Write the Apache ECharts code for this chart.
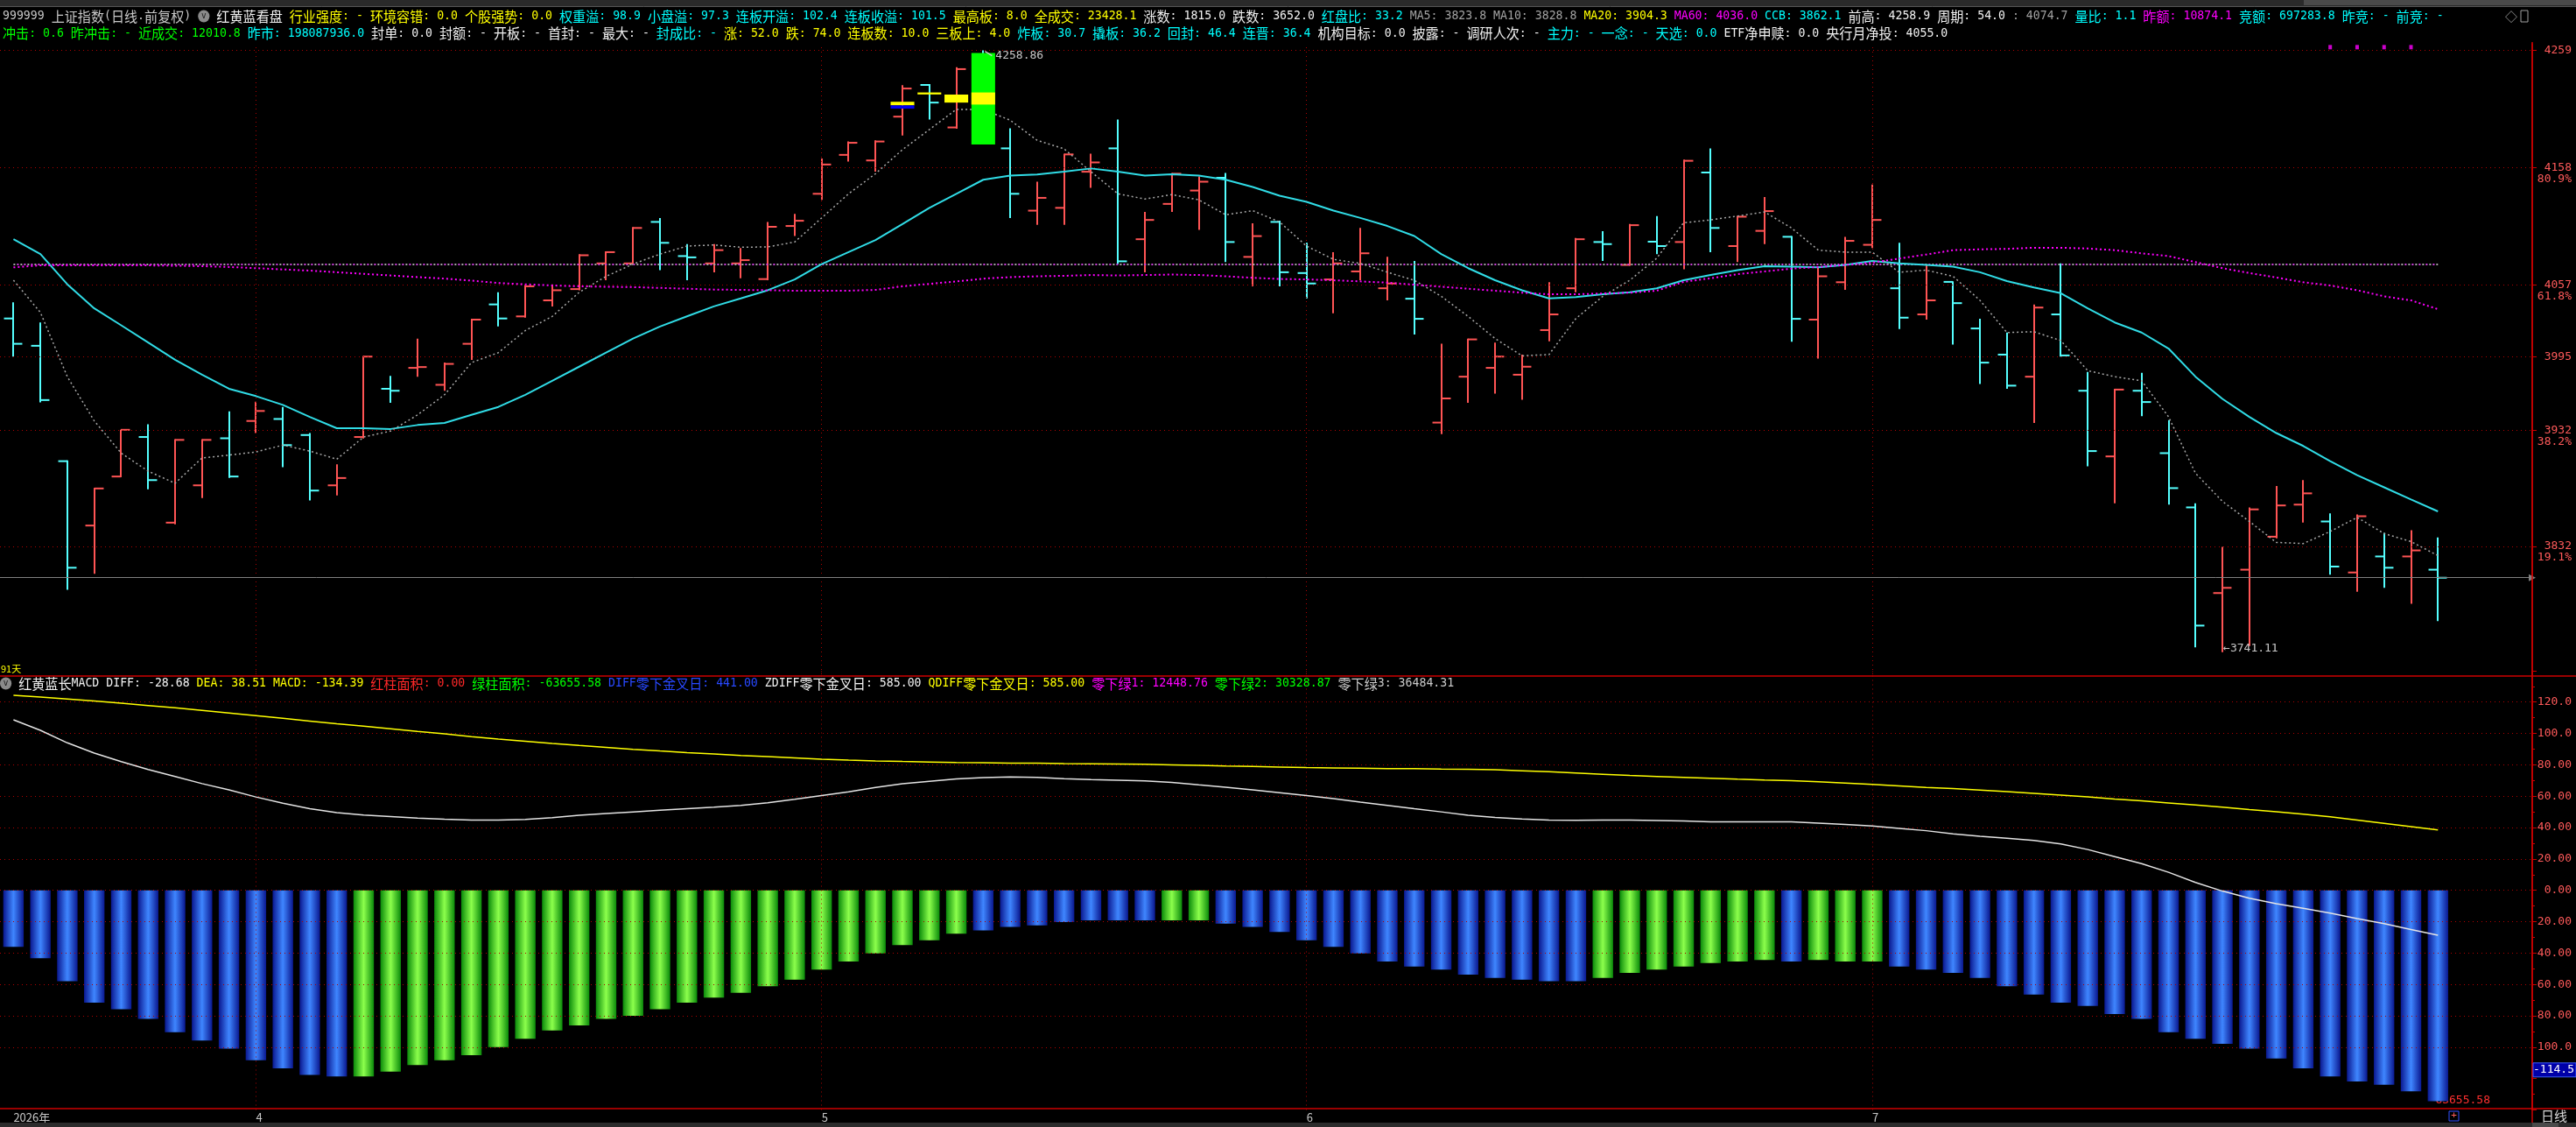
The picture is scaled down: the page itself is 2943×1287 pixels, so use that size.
<!DOCTYPE html>
<html>
<head>
<meta charset="utf-8">
<title>上证指数 日线</title>
<script src="https://cdn.jsdelivr.net/npm/echarts@6.0.0/dist/echarts.min.js"></script>
<style>
html,body{margin:0;padding:0;background:#000;overflow:hidden;}
#chart{width:2943px;height:1287px;}
</style>
</head>
<body>
<div id="chart"></div>
<script>
// ---------------- data ----------------
const opens = [4028.2,4004.7,3905.4,3850.0,3892.2,3926.2,3852.5,3884.6,3925.1,3940.0,
 3941.7,3927.9,3884.6,3926.2,3967.7,3985.7,3971.1,4006.4,4040.3,4030.0,
 4043.8,4053.5,4075.6,4075.6,4111.3,4081.9,4075.6,4075.6,4062.1,4107.8,
 4135.5,4169.0,4164.2,4201.9,4229.2,4192.6,4232.0,4174.6,4121.0,4123.4,
 4154.5,4174.6,4096.4,4126.8,4138.3,4149.3,4081.2,4111.3,4067.3,4061.8,
 4068.7,4054.2,4045.2,3938.6,3978.1,3985.7,3979.8,4018.2,4054.2,4094.0,
 4074.3,4094.3,4094.0,4153.8,4090.5,4103.6,4098.5,4027.2,4059.4,4091.6,
 4054.2,4031.7,4059.7,4019.6,3997.1,3978.1,4031.7,3966.0,3909.5,3966.0,
 3912.3,3865.6,3791.9,3812.0,3840.4,3868.0,3853.5,3809.6,3823.4,3823.4,
 3812.0];
const highs = [4042.1,4024.8,3906.1,3882.5,3932.4,3937.2,3924.4,3924.4,3948.3,3956.6,
 3952.1,3929.6,3902.6,3996.0,3978.7,4010.9,3990.2,4028.0,4050.7,4056.9,
 4057.6,4083.5,4086.0,4107.0,4114.7,4092.2,4092.2,4088.8,4111.3,4118.2,
 4165.9,4180.5,4181.5,4228.9,4229.9,4244.5,4258.86,4191.9,4145.9,4170.1,
 4170.1,4199.5,4119.9,4153.5,4150.4,4153.5,4110.2,4112.3,4093.3,4085.3,
 4106.1,4081.2,4077.7,4006.4,4010.9,4007.5,3997.1,4059.4,4097.5,4103.3,
 4109.5,4116.4,4165.0,4174.6,4116.5,4132.7,4099.1,4073.2,4098.5,4143.4,
 4093.3,4074.3,4060.1,4027.9,4016.1,4040.3,4075.6,3982.2,3967.7,3981.5,
 3940.7,3869.1,3831.7,3865.5,3884.0,3889.1,3860.4,3859.5,3843.8,3845.9,
 3839.7];
const lows = [3995.4,3956.0,3794.7,3808.5,3891.6,3881.2,3851.0,3873.6,3891.0,3929.6,
 3900.2,3871.5,3876.0,3925.0,3955.6,3978.1,3966.0,3992.6,4021.3,4028.9,
 4038.6,4052.5,4061.1,4075.0,4069.8,4061.1,4068.0,4062.8,4061.1,4099.1,
 4130.3,4163.2,4154.5,4185.7,4199.5,4191.5,4178.0,4114.7,4108.8,4108.8,
 4140.7,4075.0,4068.0,4119.9,4104.4,4076.7,4055.9,4055.9,4045.5,4032.7,
 4061.1,4043.8,4014.4,3928.6,3955.6,3963.5,3958.3,4008.5,4050.7,4077.7,
 4073.6,4083.6,4070.5,4085.3,4076.7,4092.2,4008.2,3993.6,4052.8,4088.8,
 4019.2,4027.2,4005.7,3971.8,3967.7,3938.3,3995.4,3900.9,3869.1,3944.1,
 3868.0,3745.2,3741.11,3746.3,3839.0,3852.5,3807.8,3793.0,3796.4,3782.6,
 3767.7];
const closes = [4006.4,3958.0,3813.7,3881.9,3932.4,3889.1,3923.7,3923.7,3892.2,3948.6,
 3919.2,3880.1,3890.9,3995.4,3966.0,3986.4,3989.1,4027.2,4028.2,4055.9,
 4052.5,4082.6,4085.3,4106.1,4093.3,4080.8,4087.0,4078.4,4107.1,4112.3,
 4160.7,4179.4,4180.5,4226.1,4214.0,4242.8,4182.0,4135.5,4132.0,4169.4,
 4162.5,4077.4,4113.0,4152.8,4145.9,4094.0,4099.1,4068.0,4058.3,4075.6,
 4084.3,4058.3,4027.9,3959.4,4010.2,3995.4,3986.7,4031.7,4096.4,4092.2,
 4108.5,4090.5,4163.9,4106.1,4115.8,4120.6,4027.9,4064.5,4095.0,4113.0,
 4028.9,4043.8,4041.4,3990.2,3970.4,4037.6,3996.4,3914.1,3967.0,3956.3,
 3882.2,3763.9,3796.4,3863.9,3867.3,3877.7,3814.7,3858.0,3813.7,3828.6,
 3805.1];
const ccb = [4096.4,4083.6,4057.6,4036.9,4022.3,4007.5,3992.6,3979.8,3967.7,3961.4,
 3953.8,3943.5,3933.8,3933.8,3933.1,3936.5,3938.3,3945.2,3952.1,3962.5,
 3974.6,3986.7,3998.8,4010.9,4021.3,4030.0,4038.6,4045.5,4052.5,4061.8,
 4075.0,4085.3,4095.7,4109.5,4123.4,4135.5,4147.6,4151.1,4152.1,4154.5,
 4157.3,4154.5,4151.1,4152.4,4151.1,4147.6,4141.4,4133.8,4128.6,4121.0,
 4114.7,4107.8,4099.2,4083.6,4071.5,4061.1,4052.5,4045.5,4046.6,4049.0,
 4050.7,4054.2,4061.1,4065.6,4069.8,4073.2,4072.8,4072.2,4074.3,4077.7,
 4075.6,4074.3,4072.8,4068.0,4060.4,4054.9,4050.0,4036.9,4024.8,4016.1,
 4002.3,3978.1,3959.0,3943.5,3929.6,3918.5,3905.4,3893.3,3882.9,3872.5,
 3862.2];
const ma5 = [4061.1,4033.4,3978.1,3940.0,3912.3,3896.8,3886.4,3908.2,3910.6,3913.3,
 3919.2,3914.1,3907.1,3926.2,3931.3,3945.2,3962.5,3990.2,3998.8,4017.8,
 4030.0,4050.7,4064.5,4075.0,4083.6,4090.5,4091.5,4089.5,4089.8,4094.0,
 4114.7,4135.5,4152.8,4173.5,4190.8,4208.1,4208.1,4198.8,4181.5,4174.2,
 4154.5,4135.5,4131.0,4134.8,4130.3,4117.5,4121.0,4111.3,4090.5,4079.1,
 4075.6,4068.0,4061.1,4047.3,4030.0,4010.9,3996.1,3997.1,4028.2,4047.3,
 4061.1,4080.1,4110.6,4113.0,4116.4,4119.9,4106.1,4087.0,4085.3,4085.3,
 4068.0,4069.8,4064.5,4043.8,4016.1,4016.8,4009.2,3983.3,3978.1,3974.6,
 3943.5,3895.0,3870.8,3853.5,3835.5,3834.5,3844.9,3857.0,3843.1,3836.2,
 3824.1];
const ma60 = [4072.2,4073.9,4073.9,4073.9,4073.9,4073.9,4073.6,4073.2,4072.5,4071.5,
 4070.4,4069.4,4068.0,4066.6,4065.2,4063.8,4062.5,4060.8,4058.7,4057.6,
 4056.6,4055.9,4055.5,4055.2,4054.5,4053.8,4053.1,4052.8,4052.5,4052.1,
 4052.1,4052.1,4052.8,4055.9,4058.0,4060.1,4062.5,4063.8,4064.5,4064.9,
 4065.6,4065.2,4065.6,4066.0,4065.6,4064.5,4063.2,4062.2,4061.8,4061.1,
 4060.1,4059.0,4057.3,4055.5,4053.8,4052.1,4050.4,4049.0,4049.0,4049.7,
 4050.4,4052.1,4059.7,4062.8,4066.3,4068.7,4071.1,4072.5,4074.3,4076.3,
 4079.8,4083.2,4087.0,4087.7,4088.1,4089.1,4089.1,4088.4,4087.0,4084.3,
 4081.9,4076.7,4071.5,4067.3,4063.5,4059.4,4056.6,4052.5,4047.3,4043.8,
 4036.2];
const diff = [108.7,102.0,94.0,87.5,82.0,77.0,72.5,68.0,64.0,59.5,
 55.5,52.0,49.5,48.0,47.0,46.0,45.3,44.8,44.7,45.2,
 46.3,47.8,49.0,50.0,51.0,52.0,53.0,54.1,55.8,58.0,
 60.4,62.8,65.5,67.9,69.5,71.0,71.8,72.2,72.0,71.2,
 70.6,70.2,69.8,68.8,67.2,65.7,64.0,62.2,60.4,58.4,
 56.2,54.1,52.0,50.0,47.8,46.5,45.5,44.8,44.6,44.7,
 44.7,44.5,44.2,43.7,43.6,43.6,43.6,42.8,42.0,41.0,
 39.5,38.0,36.0,34.5,33.2,31.8,29.5,26.0,21.5,17.0,
 11.5,5.0,-0.5,-5.0,-8.5,-11.5,-14.5,-18.0,-21.3,-25.0,
 -28.68];
const dea = [124.3,123.2,122.0,120.7,119.3,117.8,116.3,114.7,113.0,111.3,
 109.6,107.9,106.2,104.6,103.0,101.3,99.7,98.0,96.4,95.0,
 93.6,92.3,91.1,89.9,88.8,87.8,86.9,86.0,85.2,84.4,
 83.6,83.0,82.5,82.1,81.8,81.5,81.3,81.1,81.0,80.8,
 80.7,80.5,80.3,80.0,79.7,79.3,79.0,78.6,78.2,78.0,
 77.8,77.6,77.5,77.3,77.2,76.8,76.2,75.6,74.8,74.0,
 73.2,72.6,72.0,71.4,70.8,70.3,69.9,69.2,68.4,67.5,
 66.6,65.6,64.8,63.9,62.9,61.8,60.7,59.5,58.2,57.0,
 55.7,54.4,53.0,51.5,50.1,48.6,46.8,44.8,42.7,40.6,
 38.51];
const macd = [-36.0,-43.3,-58.0,-71.6,-75.8,-82.0,-90.5,-95.7,-100.9,-108.3,
 -113.5,-117.7,-118.7,-118.7,-115.6,-111.4,-108.3,-105.1,-99.9,-94.7,
 -89.4,-86.2,-82.0,-80.0,-75.8,-71.6,-68.4,-65.3,-61.1,-56.9,
 -50.6,-45.4,-40.2,-34.9,-31.8,-27.6,-25.5,-23.4,-22.3,-20.3,
 -19.2,-19.2,-19.2,-19.2,-19.2,-21.3,-23.4,-26.6,-31.8,-36.0,
 -40.2,-45.4,-48.6,-50.6,-53.8,-55.9,-56.9,-58.0,-58.0,-55.9,
 -52.7,-50.6,-48.6,-46.4,-45.4,-44.4,-45.4,-44.4,-45.4,-45.4,
 -48.6,-50.6,-52.7,-55.9,-61.1,-66.4,-71.6,-73.7,-78.9,-82.0,
 -90.5,-94.7,-97.8,-100.9,-107.2,-113.5,-118.7,-121.9,-124.0,-128.1,
 -134.39];
// b = blue bar, g = green bar
const macdColorKey = 'bbbbbbbbbbbbbgggggggggggggggggggggggbbbbbbbggbbbbbbbbbbbbbbgggggggbgggbbbbbbbbbbbbbbbbbbbbb';

const priceLabels = [4259, 4158, 4057, 3995, 3932, 3832];
const pctLabels = ['', '80.9%', '61.8%', '', '38.2%', '19.1%'];
const macdGridValues = [120, 100, 80, 60, 40, 20, 0, -20, -40, -60, -80, -100];
const monthIdx = [9, 30, 48, 69];
const xLabelIdx = [0, 9, 30, 48, 69];
const xLabelText = ['2026年', '4', '5', '6', '7'];
const levelLine = 4074.7;
const extremeIdx = [36, 82];
const extremeVal = [4258.86, 3741.11];
const extremeKind = ['high', 'low'];
const signalIdx = [86, 87, 88, 89];
const signalVal = 4261.7;
const blockIdx = [33, 33, 34, 35, 36, 36];
const blockTop = [4214.7, 4211.6, 4222.7, 4220.9, 4256.6, 4222.7];
const blockBottom = [4211.6, 4208.8, 4221.0, 4214.0, 4178.0, 4212.3];
const blockKind = ['y', 'b', 'y', 'y', 'g', 'y'];
const cursorMacd = -114.5;
const greenAreaText = '-63655.58';

const header1 = [
  ['lg', '999999 上证指数(日线.前复权) '],
  ['icon', 'v'],
  ['w', ' 红黄蓝看盘 '],
  ['y', '行业强度: - 环境容错: 0.0 个股强势: 0.0 '],
  ['c', '权重溢: 98.9 小盘溢: 97.3 连板开溢: 102.4 连板收溢: 101.5 '],
  ['y', '最高板: 8.0 全成交: 23428.1 '],
  ['w', '涨数: 1815.0 跌数: 3652.0 '],
  ['c', '红盘比: 33.2 '],
  ['gr', 'MA5: 3823.8 MA10: 3828.8 '],
  ['y', 'MA20: 3904.3 '],
  ['m', 'MA60: 4036.0 '],
  ['c', 'CCB: 3862.1 '],
  ['w', '前高: 4258.9 周期: 54.0 '],
  ['gr', ': 4074.7 '],
  ['c', '量比: 1.1 '],
  ['m', '昨额: 10874.1 '],
  ['c', '竞额: 697283.8 昨竞: - 前竞: -']
];
const header2 = [
  ['gn', '冲击: 0.6 昨冲击: - 近成交: 12010.8 '],
  ['c', '昨市: 198087936.0 '],
  ['w', '封单: 0.0 封额: - 开板: - 首封: - 最大: - '],
  ['c', '封成比: - '],
  ['y', '涨: 52.0 跌: 74.0 连板数: 10.0 三板上: 4.0 '],
  ['c', '炸板: 30.7 撬板: 36.2 回封: 46.4 连晋: 36.4 '],
  ['w', '机构目标: 0.0 披露: - 调研人次: - '],
  ['c', '主力: - 一念: - 天选: 0.0 '],
  ['w', 'ETF净申赎: 0.0 央行月净投: 4055.0']
];
const macdHeader = [
  ['icon', 'v'],
  ['w', ' 红黄蓝长MACD DIFF: -28.68 '],
  ['y', 'DEA: 38.51 MACD: -134.39 '],
  ['r', '红柱面积: 0.00 '],
  ['gn', '绿柱面积: -63655.58 '],
  ['bl', 'DIFF零下金叉日: 441.00 '],
  ['w', 'ZDIFF零下金叉日: 585.00 '],
  ['y', 'QDIFF零下金叉日: 585.00 '],
  ['m', '零下绿1: 12448.76 '],
  ['gn', '零下绿2: 30328.87 '],
  ['lg', '零下绿3: 36484.31']
];

// ---------------- styling / layout ----------------
const FONT_CJK = '"Noto Sans CJK SC", "Noto Sans", sans-serif';
const FONT_MONO = '"DejaVu Sans Mono", "Liberation Mono", monospace';
const COLOR = { w: '#f0f0f0', lg: '#c8c8c8', y: '#ffff00', c: '#00ffff', m: '#ff00ff', gr: '#a0a0a0',
  gn: '#00ff00', r: '#ff2828', bl: '#2848ff' };
const UP = '#ff5454', DOWN = '#54ffff', GRIDRED = '#b00000', AXISRED = '#cc0000', LABELRED = '#ff5a5a';
const BLOCK_COLOR = { y: '#ffff00', b: '#0000f0', g: '#00ff00' };
const SLOT_COUNT = 94;
const GRID_LEFT = -3, GRID_RIGHT = 50;
const MAIN_TOP = 50, MAIN_H = 720, MAIN_MIN = 3722.0, MAIN_MAX = 4264.6;
const MACD_TOP = 765.9, MACD_H = 501.6, MACD_MIN = -140, MACD_MAX = 140;
const HEADER_SCALE = 0.943;

const categories = Array.from({ length: SLOT_COUNT }, (_, i) => 'd' + i);
const xLabels = categories.map((_, i) => { const k = xLabelIdx.indexOf(i); return k >= 0 ? xLabelText[k] : ''; });
const ohlcData = opens.map((o, i) => [i, o, closes[i], lows[i], highs[i]]);
const lastIdx = closes.length - 1;

const chart = echarts.init(document.getElementById('chart'), null, { renderer: 'canvas' });

function renderOHLC(params, api) {
  const i = api.value(0);
  const o = api.coord([i, api.value(1)]);
  const c = api.coord([i, api.value(2)]);
  const l = api.coord([i, api.value(3)]);
  const h = api.coord([i, api.value(4)]);
  const band = api.size([1, 0])[0];
  const t = band * 0.34;
  const col = api.value(2) >= api.value(1) ? UP : DOWN;
  const x = Math.round(h[0]);
  const st = { stroke: col, lineWidth: 2 };
  return { type: 'group', children: [
    { type: 'line', shape: { x1: x, y1: h[1], x2: x, y2: l[1] }, style: st },
    { type: 'line', shape: { x1: x - t, y1: o[1], x2: x, y2: o[1] }, style: st },
    { type: 'line', shape: { x1: x, y1: c[1], x2: x + t, y2: c[1] }, style: st }
  ]};
}
function renderBlock(params, api) {
  const i = api.value(0);
  const p1 = api.coord([i, api.value(1)]);
  const p2 = api.coord([i, api.value(2)]);
  const w = api.size([1, 0])[0] * 0.88;
  return { type: 'rect', shape: { x: p1[0] - w / 2, y: p1[1], width: w, height: Math.max(2, p2[1] - p1[1]) },
    style: { fill: api.visual('color') } };
}
function renderExtreme(params, api) {
  const i = api.value(0), v = api.value(1), kind = extremeKind[params.dataIndex];
  const p = api.coord([i, v]);
  const txt = v.toFixed(2);
  if (kind === 'high') {
    return { type: 'group', children: [
      { type: 'line', shape: { x1: p[0] + 2, y1: p[1] + 1, x2: p[0] + 10, y2: p[1] + 6 }, style: { stroke: '#c8c8c8', lineWidth: 1.5 } },
      { type: 'text', x: p[0] + 14, y: p[1] + 6, style: { text: txt, fill: '#c8c8c8', font: '13px ' + FONT_MONO, verticalAlign: 'middle', textAlign: 'left' } }
    ]};
  }
  return { type: 'text', x: p[0] + 1, y: p[1] - 4, style: { text: '←' + txt, fill: '#c8c8c8', font: '13px ' + FONT_MONO, verticalAlign: 'middle', textAlign: 'left' } };
}

const blueGrad = new echarts.graphic.LinearGradient(0, 0, 1, 0, [
  { offset: 0, color: '#0a1890' }, { offset: 0.5, color: '#3f86ff' }, { offset: 1, color: '#0a1890' }]);
const greenGrad = new echarts.graphic.LinearGradient(0, 0, 1, 0, [
  { offset: 0, color: '#0a8a0a' }, { offset: 0.5, color: '#8cff4c' }, { offset: 1, color: '#0a8a0a' }]);

const gridLineStyle = { color: GRIDRED, type: [1, 4], width: 1 };

const option = {
  backgroundColor: '#000000',
  animation: false,
  grid: [
    { left: GRID_LEFT, right: GRID_RIGHT, top: MAIN_TOP, height: MAIN_H },
    { left: GRID_LEFT, right: GRID_RIGHT, top: MACD_TOP, height: MACD_H }
  ],
  xAxis: [
    { type: 'category', gridIndex: 0, data: categories, boundaryGap: true, show: false },
    { type: 'category', gridIndex: 1, data: categories, boundaryGap: true,
      axisLine: { show: false }, axisTick: { show: false }, splitLine: { show: false },
      axisLabel: { interval: 0, formatter: (v, i) => xLabels[i], align: 'left', color: '#c8c8c8',
        fontSize: 13, fontFamily: FONT_CJK, margin: 2 } }
  ],
  yAxis: [
    { type: 'value', gridIndex: 0, position: 'right', min: MAIN_MIN, max: MAIN_MAX,
      splitLine: { show: false },
      axisLine: { show: true, lineStyle: { color: AXISRED, width: 1.5 } },
      axisTick: { show: true, customValues: priceLabels, length: 5, lineStyle: { color: AXISRED } },
      axisLabel: { customValues: priceLabels, align: 'right', margin: 45,
        formatter: function (v) {
          const k = priceLabels.indexOf(Math.round(v));
          const pct = k >= 0 ? pctLabels[k] : '';
          return pct ? '{e| }\n{v|' + Math.round(v) + '}\n{v|' + pct + '}' : '{v|' + Math.round(v) + '}';
        },
        rich: {
          v: { color: LABELRED, fontSize: 13, lineHeight: 13, fontFamily: FONT_MONO, align: 'right' },
          e: { fontSize: 13, lineHeight: 13 }
        } } },
    { type: 'value', gridIndex: 1, position: 'right', min: MACD_MIN, max: MACD_MAX, interval: 20,
      splitLine: { show: false },
      axisLine: { show: true, lineStyle: { color: AXISRED, width: 1.5 } },
      axisTick: { show: true, length: 5, lineStyle: { color: AXISRED } },
      minorTick: { show: true, splitNumber: 2, length: 3, lineStyle: { color: AXISRED } },
      axisLabel: { align: 'right', margin: 45, color: LABELRED, fontSize: 13, fontFamily: FONT_MONO,
        formatter: function (v) {
          const a = Math.abs(v);
          if (v >= 140 || v <= -120) return '';
          return a >= 100 ? a.toFixed(1) : a.toFixed(2);
        } } }
  ],
  series: [
    { name: 'K', type: 'custom', xAxisIndex: 0, yAxisIndex: 0, renderItem: renderOHLC,
      data: ohlcData, encode: { x: 0, y: [1, 2, 3, 4] }, z: 3, clip: false, silent: true },
    { name: 'CCB', type: 'line', xAxisIndex: 0, yAxisIndex: 0, data: ccb, symbol: 'none',
      lineStyle: { color: '#30dce6', width: 2 }, z: 5, silent: true,
      markLine: { silent: true, symbol: ['none', 'none'], label: { show: false }, lineStyle: gridLineStyle,
        data: priceLabels.map(v => ({ yAxis: v })).concat(monthIdx.map(i => ({ xAxis: i }))) } },
    { name: 'MA5', type: 'line', xAxisIndex: 0, yAxisIndex: 0, data: ma5, symbol: 'none',
      lineStyle: { color: '#a8a8a8', width: 1.5, type: [2, 3] }, z: 5, silent: true,
      markLine: { silent: true, symbol: ['none', 'none'], label: { show: false },
        data: [
          [{ coord: [0, levelLine], lineStyle: { color: '#a8a8a8', width: 2, type: [2, 6], dashOffset: 0 } },
           { coord: [lastIdx, levelLine] }],
          [{ coord: [0, levelLine], lineStyle: { color: '#d040e0', width: 2, type: [2, 6], dashOffset: 4 } },
           { coord: [lastIdx, levelLine] }]
        ] } },
    { name: 'MA60', type: 'line', xAxisIndex: 0, yAxisIndex: 0, data: ma60, symbol: 'none',
      lineStyle: { color: '#ff00ff', width: 2, type: [2, 3] }, z: 5, silent: true,
      markLine: { silent: true, symbol: ['none', 'triangle'], symbolSize: 8, label: { show: false },
        lineStyle: { color: '#808080', width: 1, type: 'solid' },
        data: [{ yAxis: closes[lastIdx] }] } },
    { name: 'blocks', type: 'custom', xAxisIndex: 0, yAxisIndex: 0, renderItem: renderBlock, z: 6, silent: true,
      data: blockIdx.map((i, k) => ({ value: [i, blockTop[k], blockBottom[k]], itemStyle: { color: BLOCK_COLOR[blockKind[k]] } })) },
    { name: 'extremes', type: 'custom', xAxisIndex: 0, yAxisIndex: 0, renderItem: renderExtreme, z: 7, silent: true,
      clip: false, data: extremeIdx.map((i, k) => [i, extremeVal[k]]) },
    { name: 'signals', type: 'scatter', xAxisIndex: 0, yAxisIndex: 0, symbol: 'rect', symbolSize: [4, 5],
      itemStyle: { color: '#ff00ff' }, z: 7, silent: true, data: signalIdx.map(i => [i, signalVal]) },
    { name: 'MACD', type: 'bar', xAxisIndex: 1, yAxisIndex: 1, barWidth: '76%', z: 3, silent: true,
      data: macd.map((v, i) => ({ value: v, itemStyle: { color: macdColorKey[i] === 'g' ? greenGrad : blueGrad } })) },
    { name: 'DIFF', type: 'line', xAxisIndex: 1, yAxisIndex: 1, data: diff, symbol: 'none',
      lineStyle: { color: '#e4e4e4', width: 1.5 }, z: 5, silent: true,
      markLine: { silent: true, symbol: ['none', 'none'], label: { show: false }, lineStyle: gridLineStyle,
        data: macdGridValues.map(v => ({ yAxis: v })).concat(monthIdx.map(i => ({ xAxis: i }))) } },
    { name: 'DEA', type: 'line', xAxisIndex: 1, yAxisIndex: 1, data: dea, symbol: 'none',
      lineStyle: { color: '#ffff00', width: 1.5 }, z: 5, silent: true }
  ]
};
chart.setOption(option);

// ---------------- header texts and frame ----------------
// ASCII runs use a monospace face, CJK runs the CJK face (like the terminal's half/full-width font)
function buildRich(segs) {
  let text = '';
  const rich = {};
  let n = 0;
  segs.forEach(s => {
    if (s[0] === 'icon') {
      const key = 't' + (n++);
      rich[key] = { backgroundColor: '#8a8a8a', borderRadius: 7, width: 14, height: 14, align: 'center',
        verticalAlign: 'middle', fill: '#1a1a1a', color: '#1a1a1a', fontSize: 10, fontFamily: FONT_MONO, lineHeight: 20 };
      text += '{' + key + '|' + s[1] + '}';
      return;
    }
    const runs = s[1].match(/[\x00-\xff]+|[^\x00-\xff]+/g) || [];
    runs.forEach(run => {
      const key = 't' + (n++);
      const ascii = /^[\x00-\xff]/.test(run);
      rich[key] = { fill: COLOR[s[0]], color: COLOR[s[0]], fontSize: ascii ? 14 : 16,
        fontFamily: ascii ? FONT_MONO : FONT_CJK, lineHeight: 20, verticalAlign: 'middle' };
      text += '{' + key + '|' + run + '}';
    });
  });
  return { text, rich };
}
function richText(segs, x, y) {
  const r = buildRich(segs);
  return { type: 'text', x: x, y: y, scaleX: HEADER_SCALE, z: 100, silent: true,
    style: { text: r.text, rich: r.rich, font: '16px ' + FONT_CJK, verticalAlign: 'middle', textAlign: 'left' } };
}

const cursorY = chart.convertToPixel({ yAxisIndex: 1 }, cursorMacd);
const graphics = [
  // top menu strip
  { type: 'rect', shape: { x: 0, y: 0, width: 2943, height: 7 }, style: { fill: '#2a2a2a' }, z: 90, silent: true },
  { type: 'rect', shape: { x: 2632, y: 0, width: 311, height: 6 }, style: { fill: '#4a4a4a' }, z: 91, silent: true },
  { type: 'line', shape: { x1: 0, y1: 7.5, x2: 2943, y2: 7.5 }, style: { stroke: '#555555', lineWidth: 1 }, z: 91, silent: true },
  richText(header1, 3, 18.5),
  richText(header2, 3, 38),
  { type: 'text', x: 2862, y: 18.5, z: 100, silent: true, style: { text: '◇', fill: '#a0a0a0', font: '14px ' + FONT_CJK, verticalAlign: 'middle' } },
  { type: 'rect', shape: { x: 2880, y: 12, width: 8, height: 13 }, style: { fill: 'none', stroke: '#a0a0a0', lineWidth: 1 }, z: 100, silent: true },
  // frame lines
  { type: 'line', shape: { x1: 2893, y1: 48, x2: 2893, y2: 1282 }, style: { stroke: AXISRED, lineWidth: 1.5 }, z: 95, silent: true },
  { type: 'line', shape: { x1: 0, y1: 772, x2: 2943, y2: 772 }, style: { stroke: AXISRED, lineWidth: 1.5 }, z: 95, silent: true },
  { type: 'line', shape: { x1: 0, y1: 1266, x2: 2943, y2: 1266 }, style: { stroke: AXISRED, lineWidth: 1.5 }, z: 95, silent: true },
  { type: 'text', x: 1, y: 764, z: 100, silent: true, style: { text: '91天', fill: '#ffff00', font: '11px ' + FONT_CJK, verticalAlign: 'middle' } },
  richText(macdHeader, 0, 780.5),
  // value markers
  { type: 'text', x: 2845, y: 1257, z: 1, silent: true, style: { text: greenAreaText, fill: '#ff3030', font: '13px ' + FONT_MONO, verticalAlign: 'middle', textAlign: 'right' } },
  { type: 'rect', shape: { x: 2894, y: cursorY - 8, width: 49, height: 16 }, style: { fill: '#0000a8', stroke: '#3c5cff', lineWidth: 1 }, z: 100, silent: true },
  { type: 'text', x: 2941, y: cursorY, z: 101, silent: true, style: { text: String(cursorMacd), fill: '#ffffff', font: '13px ' + FONT_MONO, verticalAlign: 'middle', textAlign: 'right' } },
  // bottom strip
  { type: 'rect', shape: { x: 2798, y: 1269, width: 11, height: 11 }, style: { fill: '#000', stroke: '#3050ff', lineWidth: 1 }, z: 100, silent: true },
  { type: 'text', x: 2803.5, y: 1274.5, z: 101, silent: true, style: { text: '+', fill: '#ff6060', font: '11px ' + FONT_MONO, verticalAlign: 'middle', textAlign: 'center' } },
  { type: 'text', x: 2918, y: 1274.5, z: 100, silent: true, style: { text: '日线', fill: '#d8d8d8', font: '15px ' + FONT_CJK, verticalAlign: 'middle', textAlign: 'center' } },
  { type: 'rect', shape: { x: 0, y: 1282, width: 2943, height: 5 }, style: { fill: '#2c2c2c' }, z: 90, silent: true },
  { type: 'rect', shape: { x: 2893, y: 1282, width: 30, height: 5 }, style: { fill: '#4a4a4a' }, z: 91, silent: true }
];
chart.setOption({ graphic: graphics });
</script>
</body>
</html>
